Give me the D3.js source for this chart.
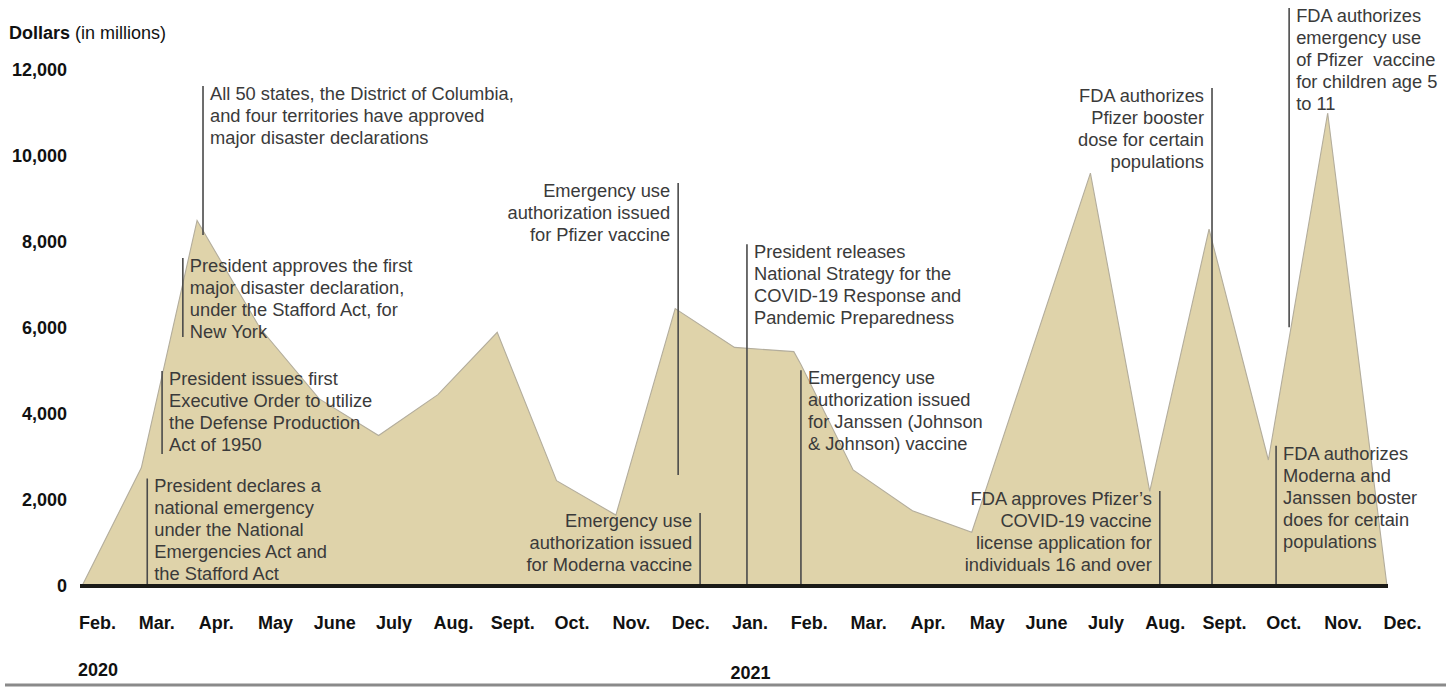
<!DOCTYPE html>
<html>
<head>
<meta charset="utf-8">
<script src="https://cdn.jsdelivr.net/npm/d3@7"></script>
<style>
  html, body { margin: 0; padding: 0; background: #ffffff; }
  svg { display: block; font-family: "Liberation Sans", Arial, Helvetica, sans-serif; }
</style>
</head>
<body>
<svg id="chart" width="1453" height="687"></svg>
<script>
// ---- Data ----
const monthLabels = ["Feb.","Mar.","Apr.","May","June","July","Aug.","Sept.","Oct.","Nov.","Dec.",
                     "Jan.","Feb.","Mar.","Apr.","May","June","July","Aug.","Sept.","Oct.","Nov.","Dec."];
const yearLabels = ["2020", "2021"];
const yearMonthIndex = [0, 11];
const yTicks = [0, 2000, 4000, 6000, 8000, 10000, 12000];

// time position (months since Feb. 2020) and obligations (millions of dollars)
const seriesMonth = [0, 1.0, 1.94, 3, 4, 5, 6, 7, 8, 9, 10, 11, 12, 12.12, 13, 14, 15, 17, 18, 19, 20, 21, 22];
const seriesValue = [0, 2750, 8500, 6000, 4350, 3500, 4450, 5900, 2450, 1650, 6450, 5550, 5450, 5150, 2700, 1750, 1250, 9600, 2200, 8300, 2930, 11000, 0];

// annotations: month position, top & bottom of leader (dollars), side of text
const noteMonth  = [1.10, 1.35, 1.70, 2.04, 10.05, 10.42, 11.21, 12.12, 18.17, 19.05, 20.35, 20.13];
const noteTop    = [2500, 5000, 7630, 11630, 9370, 1700, 7950, 5020, 2210, 11580, 13440, 3260];
const noteBottom = [0, 3070, 5790, 8160, 2580, 0, 0, 0, 0, 0, 6020, 0];
const noteSide   = ["right","right","right","right","left","left","right","right","left","left","right","right"];
const noteText = [
  ["President declares a", "national emergency", "under the National", "Emergencies Act and", "the Stafford Act"],
  ["President issues first", "Executive Order to utilize", "the Defense Production", "Act of 1950"],
  ["President approves the first", "major disaster declaration,", "under the Stafford Act, for", "New York"],
  ["All 50 states, the District of Columbia,", "and four territories have approved", "major disaster declarations"],
  ["Emergency use", "authorization issued", "for Pfizer vaccine"],
  ["Emergency use", "authorization issued", "for Moderna vaccine"],
  ["President releases", "National Strategy for the", "COVID-19 Response and", "Pandemic Preparedness"],
  ["Emergency use", "authorization issued", "for Janssen (Johnson", "& Johnson) vaccine"],
  ["FDA approves Pfizer\u2019s", "COVID-19 vaccine", "license application for", "individuals 16 and over"],
  ["FDA authorizes", "Pfizer booster", "dose for certain", "populations"],
  ["FDA authorizes", "emergency use", "of Pfizer  vaccine", "for children age 5", "to 11"],
  ["FDA authorizes", "Moderna and", "Janssen booster", "does for certain", "populations"]
];

// ---- Layout ----
const svg = d3.select("#chart");
const x = d3.scaleLinear().domain([0, 22]).range([82, 1387]);
const y = d3.scaleLinear().domain([0, 12000]).range([586, 70]);

const series = seriesMonth.map((m, i) => ({ m: m, v: seriesValue[i] }));

// area
const area = d3.area().x(d => x(d.m)).y0(y(0)).y1(d => y(d.v));
svg.append("path")
  .datum(series)
  .attr("d", area)
  .attr("fill", "#dfd3aa")
  .attr("stroke", "#b3ad9c")
  .attr("stroke-width", 1.1)
  .attr("stroke-linejoin", "miter");

// annotation leaders and text
const notes = noteMonth.map((m, i) => ({ m, top: noteTop[i], bottom: noteBottom[i], side: noteSide[i], lines: noteText[i] }));
const ng = svg.append("g");
notes.forEach(n => {
  ng.append("line")
    .attr("x1", x(n.m)).attr("x2", x(n.m))
    .attr("y1", y(n.top)).attr("y2", y(n.bottom))
    .attr("stroke", "#4a4a4a").attr("stroke-width", 1.6);
  const tx = n.side === "right" ? x(n.m) + 7 : x(n.m) - 8;
  const t = ng.append("text")
    .attr("x", tx)
    .attr("y", y(n.top) + 7.5)
    .attr("text-anchor", n.side === "right" ? "start" : "end")
    .attr("font-size", 18.3)
    .attr("fill", "#3a3a3a")
    .style("white-space", "pre");
  n.lines.forEach((ln, j) => {
    t.append("tspan").attr("x", tx).attr("dy", j === 0 ? "0.35em" : 22).text(ln);
  });
});

// baseline
svg.append("line")
  .attr("x1", x(0) - 2).attr("x2", x(22) + 1)
  .attr("y1", y(0)).attr("y2", y(0))
  .attr("stroke", "#1b1b17").attr("stroke-width", 4);

// y axis labels
const yAxis = d3.axisLeft(y).tickValues(yTicks).tickSize(0).tickPadding(0)
  .tickFormat(d3.format(","));
const ya = svg.append("g").attr("transform", "translate(67,0)").call(yAxis);
ya.select(".domain").remove();
ya.selectAll("text")
  .attr("font-size", 18).attr("font-weight", "bold").attr("fill", "#111")
  .attr("font-family", "Liberation Sans, Arial, sans-serif");

// x axis month labels
const monthIdx = monthLabels.map((d, i) => i);
const xAxis = d3.axisBottom(x).tickValues(monthIdx).tickSize(0).tickPadding(0)
  .tickFormat(i => monthLabels[i]);
const xa = svg.append("g").attr("transform", "translate(15,616)").call(xAxis);
xa.select(".domain").remove();
xa.selectAll("text")
  .attr("font-size", 18).attr("font-weight", "bold").attr("fill", "#111")
  .attr("font-family", "Liberation Sans, Arial, sans-serif");

// year labels
svg.append("g").selectAll("text").data(yearLabels).join("text")
  .attr("x", (d, i) => x(yearMonthIndex[i]) - 4)
  .attr("y", (d, i) => i === 0 ? 670 : 673)
  .attr("dy", "0.35em")
  .attr("font-size", 18).attr("font-weight", "bold").attr("fill", "#111")
  .text(d => d);

// header
const hd = svg.append("text").attr("x", 9).attr("y", 33).attr("dy", "0.35em")
  .attr("font-size", 18).attr("fill", "#111");
hd.append("tspan").attr("font-weight", "bold").text("Dollars");
hd.append("tspan").text(" (in millions)");

// bottom rule
svg.append("line")
  .attr("x1", 5).attr("x2", 1446).attr("y1", 685).attr("y2", 685)
  .attr("stroke", "#8a8a8a").attr("stroke-width", 3);
</script>
</body>
</html>
